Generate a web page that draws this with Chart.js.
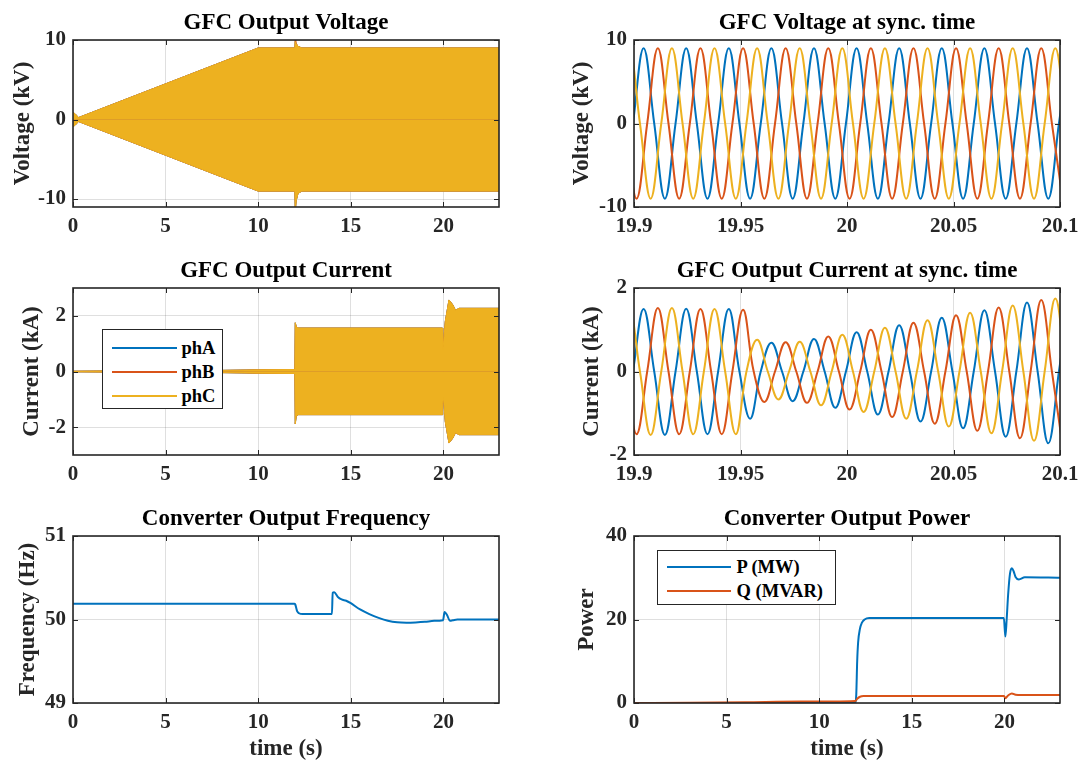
<!DOCTYPE html>
<html><head><meta charset="utf-8">
<script src="https://cdn.jsdelivr.net/npm/chart.js@4.4.1/dist/chart.umd.min.js"></script>
<style>
html,body{margin:0;padding:0;background:#fff;width:1080px;height:764px;overflow:hidden;position:relative;font-family:'Liberation Serif','Times New Roman',serif;}
.panel{position:absolute;}
.panel canvas{display:block;}
.legend{position:absolute;background:#fff;border:1.5px solid #262626;box-sizing:border-box;font-weight:bold;font-size:18.5px;color:#000;}
.legend .ln{position:absolute;height:2px;}
.legend .tx{position:absolute;line-height:22px;white-space:nowrap;}
</style></head><body>
<script>
// ---------------- DATA ----------------
const xTicksLong = [0, 5, 10, 15, 20];
const xTicksSync = [19.9, 19.95, 20, 20.05, 20.1];
const yTicksV = [-10, 0, 10];
const yTicksI = [-2, 0, 2];
const yTicksF = [49, 50, 51];
const yTicksP = [0, 20, 40];

// GFC output voltage envelope (kV) over 0..23 s
const vEnvT   = [0, 0.12, 0.3, 10, 11.98, 12.0, 12.05, 12.15, 12.35, 23];
const vEnvUp  = [0.9, 0.7, 0.25, 9, 9, 9.8, 9.5, 9.2, 9, 9];
const vEnvLo  = [-0.9, -0.7, -0.25, -9, -9, -11.5, -10.2, -9.3, -9, -9];
const vEnvUpB = [0.9, 0.7, 0.25, 9, 9, 10.6, 9.6, 9.2, 9, 9];

// GFC output current envelope (kA) over 0..23 s
const iEnvT  = [0, 2, 5, 8, 10, 11.98, 12.0, 12.05, 12.15, 19.95, 19.96, 20.0, 20.1, 20.3, 20.5, 20.65, 20.85, 23];
const iEnvUp = [0.01, 0.02, 0.03, 0.04, 0.06, 0.07, 1.75, 1.62, 1.56, 1.56, 0.78, 0.95, 1.8, 2.57, 2.4, 2.2, 2.27, 2.27];
const iEnvLo = [-0.01, -0.02, -0.03, -0.04, -0.06, -0.07, -1.88, -1.62, -1.55, -1.55, -1.15, -0.9, -1.8, -2.57, -2.4, -2.2, -2.27, -2.27];

// Sync-time waveforms: quarter-cycle event times (peaks / zero crossings) per phase
const tA = [19.8945,19.8995,19.9045,19.9095,19.9145,19.9195,19.9245,19.9295,19.9345,19.9395,19.9445,19.9495,19.9545,19.9595,19.9645,19.9695,19.9745,19.9795,19.9845,19.9895,19.9945,19.9995,20.0045,20.0095,20.0145,20.0195,20.0245,20.0295,20.0345,20.0395,20.0445,20.0495,20.0545,20.0595,20.0645,20.0695,20.0745,20.0795,20.0845,20.0895,20.0945,20.0995,20.1045];
const tB = [19.8912,19.8962,19.9012,19.9062,19.9112,19.9162,19.9212,19.9262,19.9312,19.9362,19.9412,19.9462,19.9512,19.9562,19.9612,19.9662,19.9712,19.9762,19.9812,19.9862,19.9912,19.9962,20.0012,20.0062,20.0112,20.0162,20.0212,20.0262,20.0312,20.0362,20.0412,20.0462,20.0512,20.0562,20.0612,20.0662,20.0712,20.0762,20.0812,20.0862,20.0912,20.0962,20.1012];
const tC = [19.8928,19.8978,19.9028,19.9078,19.9128,19.9178,19.9228,19.9278,19.9328,19.9378,19.9428,19.9478,19.9528,19.9578,19.9628,19.9678,19.9728,19.9778,19.9828,19.9878,19.9928,19.9978,20.0028,20.0078,20.0128,20.0178,20.0228,20.0278,20.0328,20.0378,20.0428,20.0478,20.0528,20.0578,20.0628,20.0678,20.0728,20.0778,20.0828,20.0878,20.0928,20.0978,20.1028];

// Voltage (kV) at those events
const vA = [-9,0,9,0,-9,0,9,0,-9,0,9,0,-9,0,9,0,-9,0,9,0,-9,0,9,0,-9,0,9,0,-9,0,9,0,-9,0,9,0,-9,0,9,0,-9,0,9];
const vB = [9,0,-9,0,9,0,-9,0,9,0,-9,0,9,0,-9,0,9,0,-9,0,9,0,-9,0,9,0,-9,0,9,0,-9,0,9,0,-9,0,9,0,-9,0,9,0,-9];
const vC = [0,9,0,-9,0,9,0,-9,0,9,0,-9,0,9,0,-9,0,9,0,-9,0,9,0,-9,0,9,0,-9,0,9,0,-9,0,9,0,-9,0,9,0,-9,0,9,0];

// Current (kA) at those events
const cA = [-1.5,0,1.5,0,-1.52,0,1.5,0,-1.5,0,1.5,0,-1.13,0,0.69,0,-0.71,0,0.78,0,-0.87,0,0.94,0,-1.03,0,1.11,0,-1.2,0,1.29,0,-1.36,0,1.47,0,-1.56,0,1.65,0,-1.72,0,1.8];
const cB = [1.5,0,-1.5,0,1.52,0,-1.5,0,1.5,0,-1.5,0,1.48,0,-0.73,0,0.7,0,-0.75,0,0.84,0,-0.91,0,1.0,0,-1.09,0,1.17,0,-1.25,0,1.35,0,-1.42,0,1.53,0,-1.6,0,1.71,0,-1.78];
const cC = [0,1.5,0,-1.52,0,1.52,0,-1.5,0,1.5,0,-1.5,0,0.76,0,-0.67,0,0.71,0,-0.81,0,0.88,0,-0.97,0,1.05,0,-1.13,0,1.23,0,-1.32,0,1.41,0,-1.48,0,1.58,0,-1.66,0,1.75,0];

// Converter output frequency (Hz)
const fT = [0, 11.95, 12.0, 12.05, 12.1, 12.2, 12.4, 13.98, 14.02, 14.1, 14.3, 14.5, 14.75, 15.0, 15.5, 16.0, 16.5, 17.0, 17.5, 18.0, 18.5, 19.0, 19.5, 19.98, 20.06, 20.2, 20.35, 20.5, 20.75, 21.5, 23];
const fV = [50.19, 50.19, 50.18, 50.14, 50.1, 50.075, 50.065, 50.065, 50.32, 50.325, 50.27, 50.24, 50.225, 50.195, 50.12, 50.065, 50.02, 49.985, 49.966, 49.962, 49.965, 49.972, 49.984, 49.992, 50.09, 50.05, 49.985, 49.99, 50.0, 50.0, 50.0];

// Converter output power
const pT = [0, 11.95, 12.0, 12.05, 12.1, 12.2, 12.3, 12.45, 12.7, 19.97, 20.05, 20.12, 20.2, 20.3, 20.4, 20.5, 20.6, 20.78, 21.1, 23];
const pP = [0, 0, 2, 10, 14.5, 17.8, 19.2, 20.0, 20.35, 20.35, 15.9, 20, 26, 31, 32.3, 31.5, 30.2, 29.6, 30.1, 30];
const qT = [0, 3, 6, 9, 11.95, 12.05, 12.2, 12.4, 19.98, 20.05, 20.2, 20.4, 20.6, 20.9, 23];
const qQ = [0, 0.06, 0.18, 0.33, 0.5, 1.0, 1.5, 1.65, 1.65, 1.15, 1.8, 2.3, 2.0, 1.9, 1.9];

// ---------------- STYLE ----------------
const FONT = "'Liberation Serif','Times New Roman',serif";
const AXIS = '#262626';
const GRID = 'rgba(38,38,38,0.15)';
const BLUE = '#0072BD', RED = '#D95319', YEL = '#EDB120';
Chart.defaults.font.family = FONT;

const pts = (t, v) => t.map((x, i) => ({x: x, y: v[i]}));

function envelope(label, color, t, up, lo, order) {
  const base = {borderColor: color, backgroundColor: color, borderWidth: 1, pointRadius: 0, tension: 0, fill: 'origin', order: order};
  return [
    Object.assign({label: label, data: pts(t, up), inLegend: true}, base),
    Object.assign({label: label + ' lower', data: pts(t, lo), inLegend: false}, base)
  ];
}
function wave(label, color, t, v, order) {
  return {label: label, data: pts(t, v), borderColor: color, backgroundColor: color, borderWidth: 2, pointRadius: 0, tension: 0.4, fill: false, order: order, inLegend: true};
}
function trace(label, color, t, v, order) {
  return {label: label, data: pts(t, v), borderColor: color, backgroundColor: color, borderWidth: 2, pointRadius: 0, cubicInterpolationMode: 'monotone', fill: false, order: order, inLegend: true};
}

const boxPlugin = {
  id: 'matlabBox',
  afterDatasetsDraw(chart) {
    const {ctx, chartArea: a} = chart;
    const x = chart.scales.x, y = chart.scales.y;
    ctx.save();
    ctx.strokeStyle = AXIS;
    ctx.lineWidth = 1;
    const L = 5;
    ctx.beginPath();
    x.ticks.forEach(t => { const p = Math.round(x.getPixelForValue(t.value)) + 0.5; ctx.moveTo(p, a.bottom); ctx.lineTo(p, a.bottom - L); ctx.moveTo(p, a.top); ctx.lineTo(p, a.top + L); });
    y.ticks.forEach(t => { const p = Math.round(y.getPixelForValue(t.value)) + 0.5; ctx.moveTo(a.left, p); ctx.lineTo(a.left + L, p); ctx.moveTo(a.right, p); ctx.lineTo(a.right - L, p); });
    ctx.stroke();
    ctx.lineWidth = 1.6;
    ctx.strokeRect(a.left, a.top, a.right - a.left, a.bottom - a.top);
    ctx.restore();
  }
};

const W = 70, T = 40, R = 30;
const LAB = 23, LH = LAB * 1.2;

function makePanel(spec) {
  const [L, Tp, Rt, Bt] = spec.box;
  const B = spec.xTitle ? 60 : 40;
  const div = document.createElement('div');
  div.className = 'panel';
  div.style.left = (L - W) + 'px';
  div.style.top = (Tp - T) + 'px';
  const cv = document.createElement('canvas');
  const cw = Rt - L + W + R, ch = Bt - Tp + T + B;
  cv.width = cw; cv.height = ch;
  cv.style.width = cw + 'px'; cv.style.height = ch + 'px';
  div.appendChild(cv);
  document.body.appendChild(div);
  const tickFont = {family: FONT, size: 21, weight: 'bold', lineHeight: 1.2};
  const labFont = {family: FONT, size: LAB, weight: 'bold', lineHeight: 1.2};
  const fmt = v => String(+(+v).toFixed(2));
  const tTop = T - 17 - LH / 2;
  const chart = new Chart(cv.getContext('2d'), {
    type: 'line',
    data: {datasets: spec.datasets},
    options: {
      responsive: false, animation: false, devicePixelRatio: 1,
      events: [],
      layout: {padding: {left: 0, right: R, top: 0, bottom: 0}},
      plugins: {
        legend: {display: false},
        tooltip: {enabled: false},
        title: {display: true, text: spec.title, fullSize: false, color: '#000', font: labFont, padding: {top: tTop, bottom: T - tTop - LH}}
      },
      scales: {
        x: {
          type: 'linear', min: spec.xRange[0], max: spec.xRange[1],
          afterBuildTicks: s => { s.ticks = spec.xTicks.map(v => ({value: v})); },
          afterFit: s => { s.height = B; },
          grid: {color: GRID, lineWidth: 1, drawTicks: false},
          border: {display: false},
          ticks: {padding: 7, color: AXIS, font: tickFont, autoSkip: false, maxRotation: 0, callback: fmt},
          title: spec.xTitle ? {display: true, text: spec.xTitle, color: AXIS, font: labFont, padding: {top: 0, bottom: 0}} : {display: false}
        },
        y: {
          type: 'linear', min: spec.yRange[0], max: spec.yRange[1],
          afterBuildTicks: s => { s.ticks = spec.yTicks.map(v => ({value: v})); },
          afterFit: s => { s.width = W; },
          grid: {color: GRID, lineWidth: 1, drawTicks: false},
          border: {display: false},
          ticks: {padding: 7, color: AXIS, font: tickFont, autoSkip: false, callback: fmt},
          title: {display: true, text: spec.yTitle, color: AXIS, font: labFont, padding: {top: W - spec.yOff - LH / 2, bottom: 0}}
        }
      }
    },
    plugins: [boxPlugin]
  });
  if (spec.legend) addLegend(spec.datasets.filter(d => d.inLegend), spec.legend);
  return chart;
}

function addLegend(items, g) {
  const d = document.createElement('div');
  d.className = 'legend';
  d.style.left = g.left + 'px'; d.style.top = g.top + 'px';
  d.style.width = g.width + 'px'; d.style.height = g.height + 'px';
  items.forEach((ds, i) => {
    const cy = g.rowY[i] - g.top - 1.5;
    const ln = document.createElement('div');
    ln.className = 'ln';
    ln.style.left = (g.lineX0 - g.left - 1.5) + 'px';
    ln.style.width = (g.lineX1 - g.lineX0) + 'px';
    ln.style.top = (cy - 1) + 'px';
    ln.style.background = ds.borderColor;
    const tx = document.createElement('div');
    tx.className = 'tx';
    tx.style.left = (g.textX - g.left - 1.5) + 'px';
    tx.style.top = (cy - 11) + 'px';
    tx.textContent = ds.label;
    d.appendChild(ln); d.appendChild(tx);
  });
  document.body.appendChild(d);
}

// ---------------- PANELS ----------------
makePanel({
  box: [73, 40, 499, 207], title: 'GFC Output Voltage', yTitle: 'Voltage (kV)', yOff: 50,
  xRange: [0, 23], yRange: [-11, 10], xTicks: xTicksLong, yTicks: yTicksV,
  datasets: [].concat(
    envelope('phA', BLUE, vEnvT, vEnvUp, vEnvLo, 3),
    envelope('phB', RED, vEnvT, vEnvUpB, vEnvLo, 2),
    envelope('phC', YEL, vEnvT, vEnvUp, vEnvLo, 1))
});
makePanel({
  box: [634, 40, 1060, 207], title: 'GFC Voltage at sync. time', yTitle: 'Voltage (kV)', yOff: 52,
  xRange: [19.9, 20.1], yRange: [-10, 10], xTicks: xTicksSync, yTicks: yTicksV,
  datasets: [wave('phA', BLUE, tA, vA, 3), wave('phB', RED, tB, vB, 2), wave('phC', YEL, tC, vC, 1)]
});
makePanel({
  box: [73, 288, 499, 455], title: 'GFC Output Current', yTitle: 'Current (kA)', yOff: 41,
  xRange: [0, 23], yRange: [-3, 3], xTicks: xTicksLong, yTicks: yTicksI,
  datasets: [].concat(
    envelope('phA', BLUE, iEnvT, iEnvUp, iEnvLo, 3),
    envelope('phB', RED, iEnvT, iEnvUp, iEnvLo, 2),
    envelope('phC', YEL, iEnvT, iEnvUp, iEnvLo, 1)),
  legend: {left: 102, top: 329, width: 121, height: 80, lineX0: 112, lineX1: 177, textX: 182, rowY: [348, 372, 396]}
});
makePanel({
  box: [634, 288, 1060, 455], title: 'GFC Output Current at sync. time', yTitle: 'Current (kA)', yOff: 42,
  xRange: [19.9, 20.1], yRange: [-2, 2], xTicks: xTicksSync, yTicks: yTicksI,
  datasets: [wave('phA', BLUE, tA, cA, 3), wave('phB', RED, tB, cB, 2), wave('phC', YEL, tC, cC, 1)]
});
makePanel({
  box: [73, 536, 499, 703], title: 'Converter Output Frequency', yTitle: 'Frequency (Hz)', yOff: 45, xTitle: 'time (s)',
  xRange: [0, 23], yRange: [49, 51], xTicks: xTicksLong, yTicks: yTicksF,
  datasets: [trace('Frequency', BLUE, fT, fV, 1)]
});
makePanel({
  box: [634, 536, 1060, 703], title: 'Converter Output Power', yTitle: 'Power', yOff: 47, xTitle: 'time (s)',
  xRange: [0, 23], yRange: [0, 40], xTicks: xTicksLong, yTicks: yTicksP,
  datasets: [trace('P (MW)', BLUE, pT, pP, 2), trace('Q (MVAR)', RED, qT, qQ, 1)],
  legend: {left: 657, top: 550, width: 179, height: 55, lineX0: 667, lineX1: 731, textX: 737, rowY: [567, 591]}
});
</script>
</body></html>
